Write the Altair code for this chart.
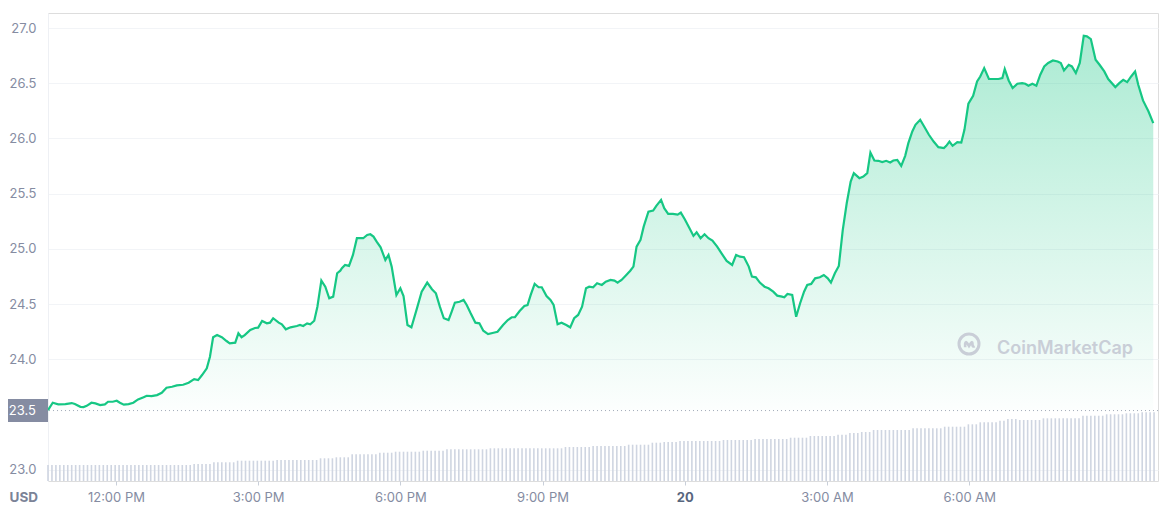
import altair as alt
import pandas as pd

FONT = "Inter"
START = "2023-03-19 10:34:00"

# ---- price series: minutes after START, price in USD ----
minutes = [
    0, 6, 13, 22, 30, 34, 41, 45, 49, 55, 60, 66, 72, 76, 82, 87, 91, 96, 102, 108,
    114, 121, 125, 131, 138, 144, 150, 157, 163, 171, 178, 185, 190, 195, 201, 205, 209, 214, 220, 226,
    230, 237, 241, 245, 249, 256, 262, 266, 271, 277, 281, 285, 292, 296, 301, 307, 315, 319, 323, 328,
    332, 337, 341, 346, 351, 356, 361, 366, 370,
    372, 376, 381, 386, 391, 399, 404, 408, 412, 416, 421, 427, 431, 435, 441, 446, 450, 455, 460, 467,
    473, 480, 486, 491, 496, 501, 507, 511, 515, 521, 526, 530, 535, 541, 546, 551, 557, 564, 569, 576,
    582, 587, 591, 597, 603, 607, 611, 616, 621, 625, 631, 636, 640, 645, 650, 656, 661, 666, 671, 676,
    681, 685, 690, 695, 701, 706, 712, 717, 721, 724,
    726, 732, 737, 741, 745, 750, 754, 760, 766, 770, 776, 780, 785, 791, 797, 801, 806, 812, 817, 821,
    826, 831, 836, 841, 847, 853, 859, 866, 871, 876, 881, 887, 891, 896, 901, 907, 912, 918, 923, 929,
    932, 936, 942, 947, 952, 957, 961, 966, 971, 977, 982, 987, 991, 996, 1001, 1006, 1011, 1016,
    1020, 1027, 1032, 1037, 1041, 1046, 1051, 1056, 1061, 1066, 1070, 1075, 1080, 1085, 1089, 1094, 1098, 1104, 1109, 1115,
    1121, 1127, 1134, 1137, 1141, 1145, 1151, 1156, 1160, 1165, 1171, 1176, 1180, 1185, 1191, 1197, 1203, 1208, 1211, 1216,
    1221, 1227, 1233, 1237, 1241, 1246, 1251, 1256, 1261, 1266, 1272, 1278, 1282, 1286, 1292, 1296, 1301, 1306, 1311, 1315,
    1320, 1326, 1331, 1337, 1342, 1351, 1356, 1361, 1366, 1371, 1376, 1380, 1386, 1393, 1399,
]
price = [
    23.539, 23.606, 23.591, 23.594, 23.603, 23.594, 23.569, 23.567, 23.578, 23.606, 23.600, 23.585, 23.591, 23.615, 23.615, 23.624, 23.606, 23.588, 23.594, 23.606,
    23.636, 23.655, 23.669, 23.666, 23.675, 23.696, 23.742, 23.751, 23.763, 23.769, 23.787, 23.820, 23.811, 23.857, 23.918, 24.023, 24.199, 24.219, 24.199, 24.165,
    24.144, 24.150, 24.235, 24.199, 24.219, 24.265, 24.283, 24.286, 24.346, 24.325, 24.331, 24.371, 24.331, 24.316, 24.271, 24.289, 24.301, 24.310, 24.301, 24.325,
    24.316, 24.349, 24.476, 24.712, 24.657, 24.552, 24.567, 24.779, 24.802,
    24.824, 24.854, 24.845, 24.945, 25.096, 25.096, 25.126, 25.132, 25.111, 25.065, 25.014, 24.899, 24.945, 24.839, 24.582, 24.643, 24.573, 24.310, 24.289, 24.461,
    24.612, 24.694, 24.634, 24.597, 24.476, 24.371, 24.355, 24.431, 24.512, 24.521, 24.537, 24.491, 24.416, 24.331, 24.325, 24.258, 24.228, 24.240, 24.249, 24.310,
    24.355, 24.380, 24.380, 24.437, 24.482, 24.491, 24.582, 24.682, 24.652, 24.652, 24.573, 24.537, 24.491, 24.316, 24.331, 24.310, 24.289, 24.371, 24.401, 24.476,
    24.643, 24.657, 24.652, 24.688, 24.673, 24.703, 24.718, 24.712, 24.694, 24.709,
    24.718, 24.763, 24.802, 24.839, 25.020, 25.081, 25.201, 25.337, 25.346, 25.389, 25.443, 25.368, 25.316, 25.316, 25.310, 25.328, 25.268, 25.187, 25.117, 25.150,
    25.096, 25.132, 25.096, 25.074, 25.020, 24.954, 24.890, 24.854, 24.945, 24.929, 24.924, 24.839, 24.748, 24.742, 24.694, 24.657, 24.643, 24.612, 24.576, 24.567,
    24.561, 24.591, 24.582, 24.385, 24.507, 24.612, 24.673, 24.682, 24.733, 24.742, 24.763, 24.733, 24.694, 24.779, 24.845, 25.171, 25.413, 25.609,
    25.685, 25.640, 25.655, 25.685, 25.872, 25.800, 25.797, 25.785, 25.797, 25.782, 25.800, 25.806, 25.752, 25.842, 25.957, 26.063, 26.123, 26.169, 26.108, 26.033,
    25.972, 25.921, 25.912, 25.933, 25.972, 25.933, 25.966, 25.963, 26.078, 26.314, 26.386, 26.516, 26.561, 26.637, 26.538, 26.538, 26.538, 26.547, 26.628, 26.525,
    26.456, 26.495, 26.501, 26.495, 26.477, 26.495, 26.477, 26.577, 26.652, 26.683, 26.706, 26.697, 26.683, 26.616, 26.667, 26.652, 26.592, 26.683, 26.930, 26.924,
    26.900, 26.713, 26.667, 26.607, 26.538, 26.465, 26.501, 26.531, 26.510, 26.561, 26.607, 26.486, 26.344, 26.244, 26.139,
]

# ---- volume bars, one per 5 minutes (millions USD), one row per hour ----
volume = [
    160, 160, 160, 160, 160, 160, 160, 160, 160, 160, 160, 160,
    160, 160, 160, 160, 160, 160, 160, 160, 160, 160, 160, 160,
    160, 160, 160, 160, 160, 160, 160, 160, 160, 160, 160, 160,
    160, 170, 170, 170, 170, 170, 187, 187, 187, 187, 187, 187,
    203, 203, 203, 203, 203, 203, 203, 203, 203, 203, 210, 210,
    210, 210, 210, 210, 210, 210, 210, 210, 210, 227, 227, 227,
    227, 237, 237, 237, 237, 267, 267, 267, 267, 267, 267, 267,
    283, 283, 283, 283, 293, 293, 293, 293, 293, 293, 293, 303,
    303, 303, 303, 303, 303, 317, 317, 317, 317, 317, 317, 317,
    317, 317, 317, 317, 327, 327, 327, 327, 327, 327, 327, 327,
    327, 327, 327, 327, 327, 327, 327, 327, 327, 327, 327, 340,
    340, 340, 340, 340, 340, 340, 350, 350, 350, 350, 350, 350,
    350, 350, 350, 363, 363, 363, 363, 363, 363, 383, 383, 383,
    390, 390, 390, 390, 400, 400, 400, 400, 400, 400, 400, 400,
    400, 400, 400, 410, 410, 410, 410, 410, 410, 410, 410, 420,
    420, 420, 420, 420, 420, 420, 420, 420, 433, 433, 433, 433,
    433, 450, 450, 450, 450, 450, 450, 450, 463, 463, 463, 480,
    480, 480, 490, 490, 490, 510, 510, 510, 510, 510, 510, 510,
    510, 510, 510, 527, 527, 527, 527, 527, 527, 527, 527, 543,
    543, 543, 543, 543, 543, 567, 567, 567, 587, 587, 587, 587,
    587, 603, 603, 620, 620, 620, 610, 610, 610, 610, 610, 610,
    627, 627, 627, 627, 627, 627, 627, 627, 627, 627, 653, 653,
    653, 653, 653, 653, 667, 667, 667, 667, 667, 677, 677, 677,
    677, 687, 687, 687, 687,
]

y_ticks = [23.0, 24.0, 24.5, 25.0, 25.5, 26.0, 26.5, 27.0]
x_tick_times = [(19, 12), (19, 15), (19, 18), (19, 21), (20, 0), (20, 3), (20, 6)]
open_price = 23.535
open_label = "23.5"
currency = "USD"
watermark = "CoinMarketCap"

assert len(minutes) == len(price)

t0 = pd.Timestamp(START)
price_df = pd.DataFrame({
    "time": [t0 + pd.Timedelta(minutes=m) for m in minutes],
    "price": price,
})
vol_df = pd.DataFrame({
    "time": pd.date_range(t0, periods=len(volume), freq="5min"),
    "volume": volume,
})
open_df = pd.DataFrame({"v": [open_price], "label": [open_label]})
wm_df = pd.DataFrame({"label": [watermark]})

GREEN = "#16c784"
GRAY = "#858ca2"

x_scale = alt.Scale(
    domain=[alt.DateTime(year=2023, month=3, date=19, hours=10, minutes=34),
            alt.DateTime(year=2023, month=3, date=20, hours=9, minutes=59)],
    nice=False,
)
x_axis = alt.Axis(
    values=[alt.DateTime(year=2023, month=3, date=d, hours=h) for d, h in x_tick_times],
    labelExpr="hours(datum.value) == 0 ? timeFormat(datum.value, '%-d') : timeFormat(datum.value, '%-I:%M %p')",
    labelFontWeight={"condition": {"test": "hours(datum.value) == 0", "value": "bold"}, "value": "normal"},
    labelColor={"condition": {"test": "hours(datum.value) == 0", "value": "#58667e"}, "value": GRAY},
    labelFont=FONT, labelFontSize=13, labelPadding=6,
    tickSize=4, tickColor="#c9cfd9", domain=False, grid=False, title=None,
)
y_scale = alt.Scale(domain=[22.897, 27.136], nice=False, zero=False)
y_axis = alt.Axis(
    values=y_ticks, format=".1f", labelFont=FONT, labelFontSize=13, labelColor=GRAY,
    labelPadding=12, ticks=False, domain=True, domainColor="#eef0f4",
    grid=True, gridColor="#f2f4f7",
    title=currency, titleAngle=0, titleX=-39, titleY=484, titleAlign="left",
    titleBaseline="middle", titleFont=FONT, titleFontSize=13.5, titleFontWeight="bold",
    titleColor="#7b8397",
)

vol = alt.Chart(vol_df).mark_rule(color="#cfd5e1", strokeWidth=1.6).encode(
    x=alt.X("time:T", scale=x_scale, axis=x_axis),
    y=alt.Y("volume:Q", scale=alt.Scale(domain=[0, 4680], nice=False, zero=True), axis=None),
    y2=alt.datum(0),
)

gradient = alt.Gradient(
    gradient="linear",
    stops=[alt.GradientStop(color="rgba(22,199,132,0.01)", offset=0),
           alt.GradientStop(color="rgba(22,199,132,0.20)", offset=0.55),
           alt.GradientStop(color="rgba(22,199,132,0.36)", offset=1)],
    x1=1, x2=1, y1=1, y2=0,
)

base = alt.Chart(price_df).encode(x=alt.X("time:T", scale=x_scale))
area = base.mark_area(color=gradient).encode(
    y=alt.Y("price:Q", scale=y_scale, axis=y_axis),
    y2=alt.datum(open_price),
)
line = base.mark_line(color=GREEN, strokeWidth=2.2).encode(y=alt.Y("price:Q", scale=y_scale))

open_rule = alt.Chart(open_df).mark_rule(color="#a3aab8", strokeWidth=1, strokeDash=[1, 3]).encode(
    y=alt.Y("v:Q", scale=y_scale)
)
open_box = alt.Chart(open_df).mark_point(
    shape="M-1,-0.575L1,-0.575L1,0.575L-1,0.575Z", filled=True, size=1600, color=GRAY, opacity=1,
).encode(x=alt.value(-20), y=alt.Y("v:Q", scale=y_scale))
open_text = alt.Chart(open_df).mark_text(
    align="right", baseline="middle", color="white", font=FONT, fontSize=13,
).encode(x=alt.value(-12), y=alt.Y("v:Q", scale=y_scale), text="label:N")

WM = "#c9ced7"
logo_ring = alt.Chart(wm_df).mark_point(
    shape="circle", filled=False, size=400, strokeWidth=3, color=WM, opacity=1,
).encode(x=alt.value(921), y=alt.value(331))
logo_m = alt.Chart(wm_df).mark_point(
    shape="M-0.55,0.45L-0.55,-0.05Q-0.5,-0.45 -0.25,-0.1L0,0.3L0.25,-0.1Q0.5,-0.45 0.5,-0.05L0.5,0.2Q0.55,0.45 0.8,0.3",
    filled=False, size=196, strokeWidth=2.6, color=WM, opacity=1,
).encode(x=alt.value(921), y=alt.value(331))
wm_text = alt.Chart(wm_df).mark_text(
    align="left", baseline="alphabetic", font=FONT, fontSize=18, fontWeight=600, color=WM,
).encode(x=alt.value(949), y=alt.value(341), text="label:N")

price_layer = alt.layer(area, line, open_rule, open_box, open_text, logo_ring, logo_m, wm_text)

chart = (
    alt.layer(vol, price_layer)
    .resolve_scale(y="independent")
    .properties(
        width=1110, height=468,
        padding={"left": 40, "top": 5, "right": 2, "bottom": 24},
        autosize=alt.AutoSizeParams(type="none"),
        background="white",
    )
    .configure_view(stroke=None)
    .configure(font=FONT)
)

chart.save("out.html", embed_options={"renderer": "svg", "actions": False})
